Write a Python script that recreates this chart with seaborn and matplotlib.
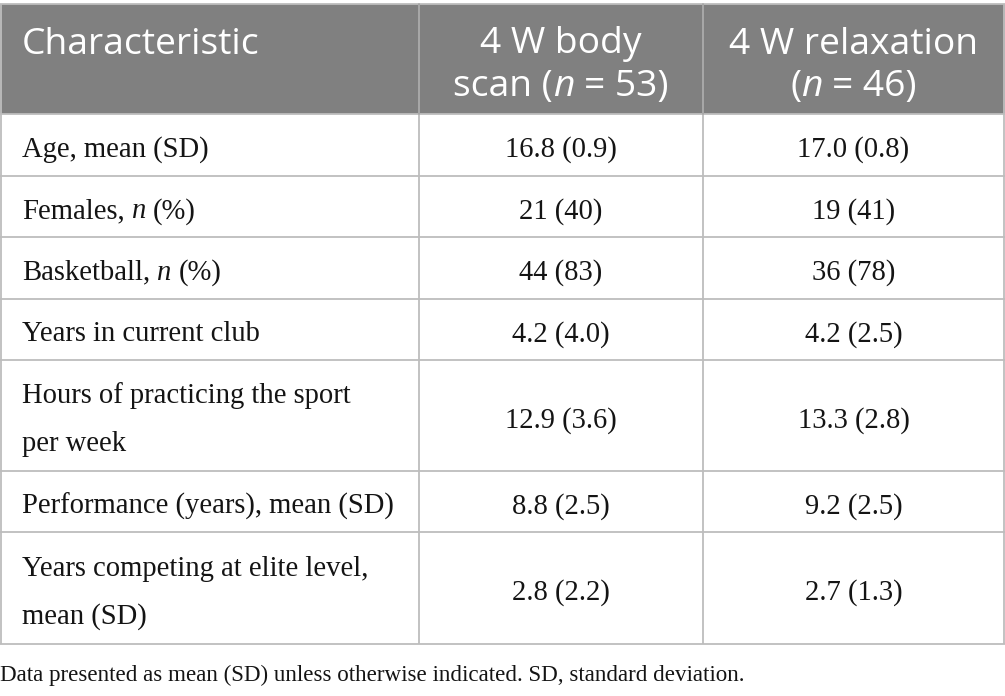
import matplotlib
matplotlib.use("Agg")
import matplotlib.pyplot as plt
import seaborn as sns
from matplotlib.patches import Rectangle

# table content
header_first = "Characteristic"
header_body_scan = [[("4 W body", "normal")],
                    [("scan (", "normal"), ("n", "italic"), (" = 53)", "normal")]]
header_relax = [[("4 W relaxation", "normal")],
                [("(", "normal"), ("n", "italic"), (" = 46)", "normal")]]

characteristics = [
    [[("Age, mean (SD)", "normal")]],
    [[("Females, ", "normal"), ("n", "italic"), (" (%)", "normal")]],
    [[("Basketball, ", "normal"), ("n", "italic"), (" (%)", "normal")]],
    [[("Years in current club", "normal")]],
    [[("Hours of practicing the sport", "normal")], [("per week", "normal")]],
    [[("Performance (years), mean (SD)", "normal")]],
    [[("Years competing at elite level,", "normal")], [("mean (SD)", "normal")]],
]
body_scan = ["16.8 (0.9)", "21 (40)", "44 (83)", "4.2 (4.0)",
             "12.9 (3.6)", "8.8 (2.5)", "2.8 (2.2)"]
relaxation = ["17.0 (0.8)", "19 (41)", "36 (78)", "4.2 (2.5)",
              "13.3 (2.8)", "9.2 (2.5)", "2.7 (1.3)"]
footnote = "Data presented as mean (SD) unless otherwise indicated. SD, standard deviation."

# layout (pixels)
W, H = 1005, 696
col_edges = [0.5, 419, 703, 1004]
header_top, header_bottom = 4, 114
row_edges = [114, 176, 237, 299, 360, 471, 532, 644]
line_gap = 48
header_gap = 42

head_font = "Open Sans"
body_font = "Liberation Serif"
head_size = 26.8
body_size = 20.6
grid_color = "#bdbdbd"
head_color = "#808080"
text_color = "#141414"

sns.set_style("white")
fig = plt.figure(figsize=(W / 100, H / 100), dpi=100)
ax = fig.add_axes([0, 0, 1, 1])
ax.set_xlim(0, W)
ax.set_ylim(H, 0)
ax.axis("off")
renderer = fig.canvas.get_renderer()


def advance(s, family, style, size):
    # width of a string including leading/trailing spaces
    def w(txt):
        t = ax.text(0, 0, txt, family=family, style=style, fontsize=size)
        bb = t.get_window_extent(renderer)
        t.remove()
        return bb.width
    return w("|" + s + "|") - w("||")


def draw_runs(x, y, runs, family, size, color, ha="left"):
    widths = [advance(s, family, st, size) for s, st in runs]
    total = sum(widths)
    x0 = x - total / 2 if ha == "center" else x
    for (s, st), wd in zip(runs, widths):
        lead = len(s) - len(s.lstrip(" "))
        off = advance(" " * lead, family, st, size) if lead else 0
        ax.text(x0 + off, y, s.strip(), family=family, style=st,
                fontsize=size, color=color, va="center_baseline", ha="left")
        x0 += wd


# header band
ax.add_patch(Rectangle((0, header_top), W, header_bottom - header_top,
                       facecolor=head_color, edgecolor="none"))
y1 = header_top + 36
draw_runs(22, y1, [(header_first, "normal")], head_font, head_size, "white")
for cx, lines in [((col_edges[1] + col_edges[2]) / 2, header_body_scan),
                  ((col_edges[2] + col_edges[3]) / 2, header_relax)]:
    for i, runs in enumerate(lines):
        draw_runs(cx, y1 + i * header_gap, runs, head_font, head_size,
                  "white", ha="center")

# body rows
for i, label_lines in enumerate(characteristics):
    top, bot = row_edges[i], row_edges[i + 1]
    mid = (top + bot) / 2 + 1.5
    n = len(label_lines)
    for j, runs in enumerate(label_lines):
        yy = mid + (j - (n - 1) / 2) * line_gap
        draw_runs(22, yy, runs, body_font, body_size, text_color)
    draw_runs((col_edges[1] + col_edges[2]) / 2, mid, [(body_scan[i], "normal")],
              body_font, body_size, text_color, ha="center")
    draw_runs((col_edges[2] + col_edges[3]) / 2, mid, [(relaxation[i], "normal")],
              body_font, body_size, text_color, ha="center")

# grid lines
for y in [header_top] + row_edges:
    ax.plot([0, W], [y, y], color=grid_color, lw=1.3, solid_capstyle="butt")
for x in col_edges:
    ax.plot([x, x], [header_top, row_edges[-1]], color=grid_color, lw=1.3,
            solid_capstyle="butt")
for x in col_edges[1:3]:
    ax.plot([x, x], [header_top, header_bottom], color="#a6a6a6", lw=1.3)

# footnote
ax.text(0, 673, footnote, family=body_font, fontsize=16.6, color=text_color,
        va="center_baseline", ha="left")

fig.savefig("out.png", dpi=100)
